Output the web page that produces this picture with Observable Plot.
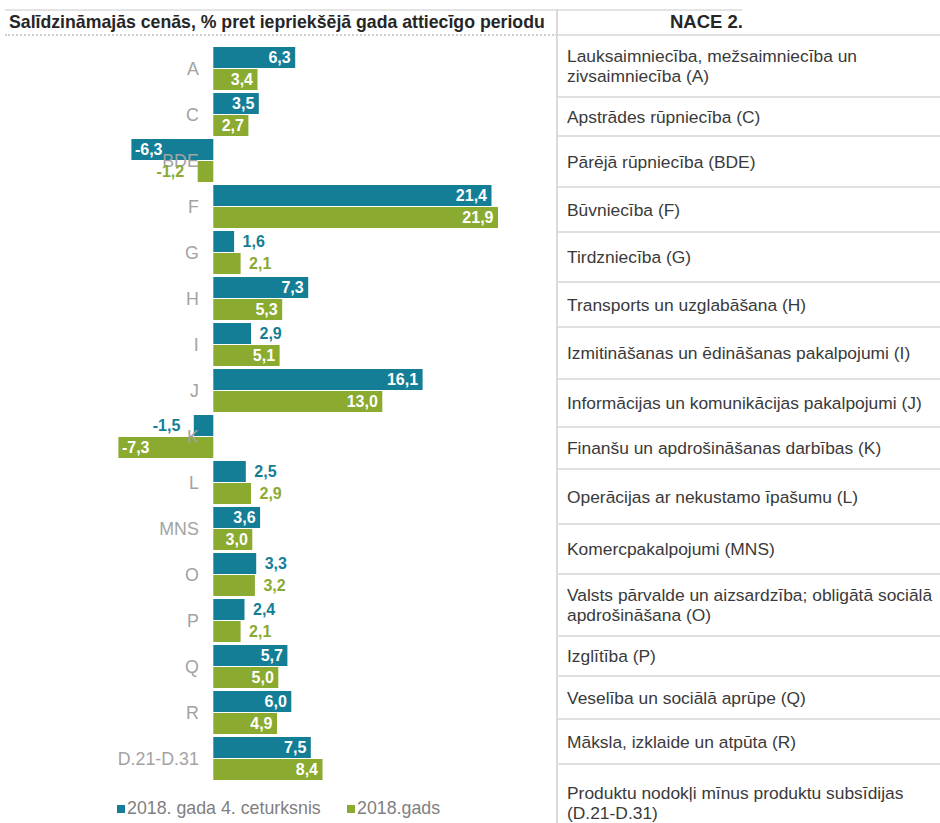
<!DOCTYPE html>
<html><head><meta charset="utf-8">
<script src="https://cdn.jsdelivr.net/npm/d3@7"></script>
<script src="https://cdn.jsdelivr.net/npm/@observablehq/plot@0.6"></script>
<style>
body{margin:0;background:#fff;}
#wrap{position:relative;width:940px;height:823px;overflow:hidden;background:#fff;font-family:"Liberation Sans",Arial,sans-serif;}
.abs{position:absolute;}
.row{position:absolute;left:558px;width:382px;display:flex;align-items:center;box-sizing:border-box;border-bottom:2px solid #e0e0e0;overflow:hidden;}
.row span{display:block;padding-left:9px;font-size:17.4px;line-height:20px;color:#3a3a3a;white-space:nowrap;}
.leg{position:absolute;top:798px;font-size:17.8px;color:#808080;white-space:nowrap;}
.sw{display:inline-block;width:8px;height:8px;margin-right:2px;vertical-align:1px;}
</style></head><body><div id="wrap"></div>
<script>
// ---- data ----
const categories = ["A","C","BDE","F","G","H","I","J","K","L","MNS","O","P","Q","R","D.21-D.31"];
const q4_2018   = [6.3, 3.5, -6.3, 21.4, 1.6, 7.3, 2.9, 16.1, -1.5, 2.5, 3.6, 3.3, 2.4, 5.7, 6.0, 7.5];
const year_2018 = [3.4, 2.7, -1.2, 21.9, 2.1, 5.3, 5.1, 13.0, -7.3, 2.9, 3.0, 3.2, 2.1, 5.0, 4.9, 8.4];
const seriesNames = ["2018. gada 4. ceturksnis", "2018.gads"];
const naceNames = [
  ["Lauksaimniecība, mežsaimniecība un", "zivsaimniecība (A)"],
  ["Apstrādes rūpniecība (C)"],
  ["Pārējā rūpniecība (BDE)"],
  ["Būvniecība (F)"],
  ["Tirdzniecība (G)"],
  ["Transports un uzglabāšana (H)"],
  ["Izmitināšanas un ēdināšanas pakalpojumi (I)"],
  ["Informācijas un komunikācijas pakalpojumi (J)"],
  ["Finanšu un apdrošināšanas darbības (K)"],
  ["Operācijas ar nekustamo īpašumu (L)"],
  ["Komercpakalpojumi (MNS)"],
  ["Valsts pārvalde un aizsardzība; obligātā sociālā", "apdrošināšana (O)"],
  ["Izglītība (P)"],
  ["Veselība un sociālā aprūpe (Q)"],
  ["Māksla, izklaide un atpūta (R)"],
  ["Produktu nodokļi mīnus produktu subsīdijas", "(D.21-D.31)"]
];
const chartTitle = "Salīdzināmajās cenās, % pret iepriekšējā gada attiecīgo periodu";
const tableTitle = "NACE 2.";
// labels drawn outside their bars (series index : category)
const outsideLabels = new Set(["0:G","0:I","0:K","0:L","0:O","0:P","1:BDE","1:G","1:L","1:O","1:P"]);

// ---- layout / style ----
const BLUE = "#137e95", GREEN = "#8aaa30";
const rowEdges = [36, 98, 137, 188, 233, 283, 328, 380, 428, 470, 525, 575, 637, 677, 720, 765, 840];
const FONT = '"Liberation Sans", Arial, sans-serif';

const wrap = document.getElementById("wrap");
function add(html){ wrap.insertAdjacentHTML("beforeend", html); }

// header lines
add(`<div class="abs" style="left:5px;top:9px;width:737px;height:2px;background:#e4e4e4"></div>`);
add(`<div class="abs" style="left:5px;top:34px;width:552px;height:0;border-top:2px dotted #cfcfcf"></div>`);
add(`<div class="abs" style="left:558px;top:34px;width:382px;height:2px;background:#e0e0e0"></div>`);
add(`<div class="abs" style="left:556px;top:9px;width:2px;height:814px;background:#dadada"></div>`);
add(`<div class="abs" style="left:9px;top:12px;font-weight:bold;font-size:17.7px;color:#262626;white-space:nowrap">${chartTitle}</div>`);
add(`<div class="abs" style="left:558px;top:11px;width:297px;text-align:center;font-weight:bold;font-size:18.5px;color:#262626">${tableTitle}</div>`);

// table rows
naceNames.forEach((lines, i) => {
  const top = rowEdges[i], h = rowEdges[i+1] - rowEdges[i];
  add(`<div class="row" style="top:${top}px;height:${h}px;${i===naceNames.length-1?'border-bottom:none;':''}"><span>${lines.join("<br>")}</span></div>`);
});

// chart
const rows = categories.flatMap((c, i) => [
  {cat: c, s: 0, series: seriesNames[0], value: q4_2018[i]},
  {cat: c, s: 1, series: seriesNames[1], value: year_2018[i]}
]);
const fmt = v => v.toFixed(1).replace(".", ",");
const isOut = d => outsideLabels.has(`${d.s}:${d.cat}`);
const inPos  = rows.filter(d => !isOut(d) && d.value >= 0);
const inNeg  = rows.filter(d => !isOut(d) && d.value < 0);
const outPos = rows.filter(d => isOut(d) && d.value >= 0);
const outNeg = rows.filter(d => isOut(d) && d.value < 0);
const lab = {fy: "cat", y: "series", x: "value", text: d => fmt(d.value), fontWeight: "bold", fontSize: 16};

const chart = Plot.plot({
  width: 557, height: 738,
  marginTop: 0, marginBottom: 0, marginLeft: 96.3, marginRight: 31.7,
  style: {fontFamily: FONT, overflow: "visible", background: "transparent"},
  x: {domain: [-9, 24], axis: null},
  y: {domain: seriesNames, axis: null, paddingInner: 0.03, paddingOuter: 0.035},
  fy: {domain: categories, axis: null, padding: 0},
  color: {domain: seriesNames, range: [BLUE, GREEN]},
  marks: [
    Plot.barX(rows, {fy: "cat", y: "series", x: "value", fill: "series"}),
    Plot.text(categories, {fy: d => d, x: () => 0, text: d => d, dx: -15, textAnchor: "end", fill: "#a3a3a3", fontSize: 17.8}),
    Plot.text(inPos,  {...lab, dx: -5, textAnchor: "end",   fill: "white"}),
    Plot.text(inNeg,  {...lab, dx:  3, textAnchor: "start", fill: "white"}),
    Plot.text(outPos, {...lab, dx:  8, textAnchor: "start", fill: "series"}),
    Plot.text(outNeg, {...lab, dx: -14, textAnchor: "end",  fill: "series"})
  ]
});
chart.style.position = "absolute";
chart.style.left = "0px";
chart.style.top = "45px";
wrap.appendChild(chart);

// legend
add(`<div class="leg" style="left:117px"><span class="sw" style="background:${BLUE}"></span>${seriesNames[0]}</div>`);
add(`<div class="leg" style="left:347px"><span class="sw" style="background:${GREEN}"></span>${seriesNames[1]}</div>`);
</script>
</body></html>
